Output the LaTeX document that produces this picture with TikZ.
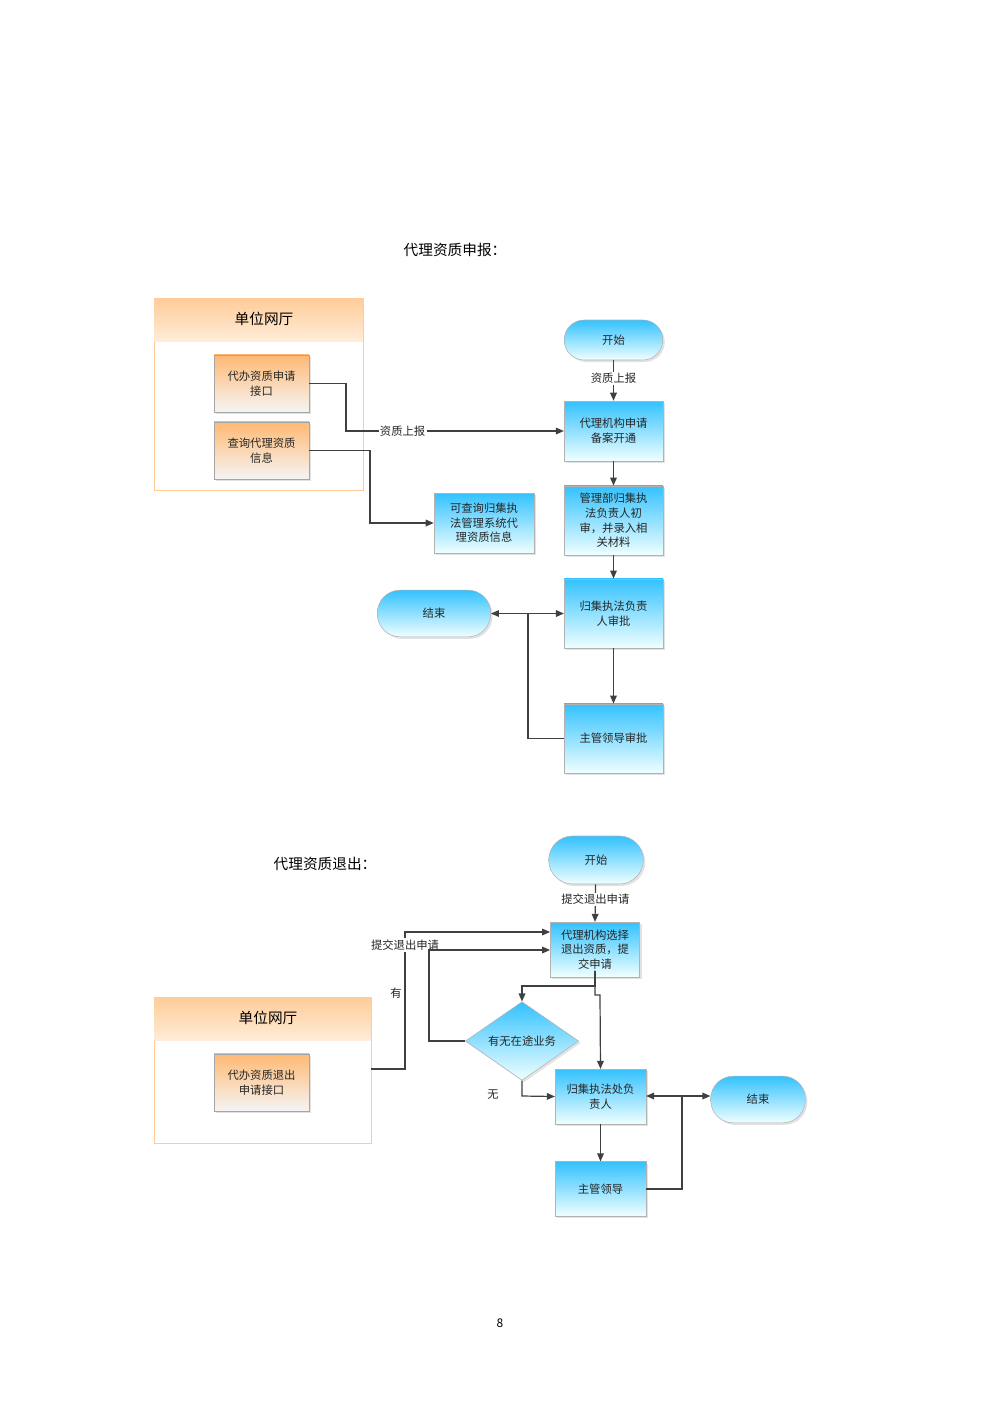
\documentclass[tikz,border=0pt]{standalone}
\usepackage{fontspec}
\setmainfont{Noto Sans CJK SC}
\usetikzlibrary{shapes.geometric,shadows,arrows.meta}
\begin{document}
\begin{tikzpicture}[x=0.75pt,y=-0.75pt,
  txt/.style={font=\fontsize{8.5pt}{11pt}\selectfont,text=black!85,align=center},
  blue/.style={txt,draw=gray!60,top color=cyan!70!blue!80,bottom color=cyan!6,
     drop shadow={shadow xshift=1.5pt,shadow yshift=-1.5pt,fill=gray!45},inner sep=1pt},
  proc/.style={blue,rectangle,minimum width=74pt},
  term/.style={blue,rectangle,rounded corners=15pt},
  org/.style={txt,rectangle,draw=gray!70,top color=orange!55!white,bottom color=gray!8,
     minimum width=71pt,minimum height=43pt,inner sep=1pt,
     drop shadow={shadow xshift=1.5pt,shadow yshift=-1.5pt,fill=gray!45}},
  ln/.style={draw=black!75,line width=0.9pt},
  arr/.style={ln,-{Triangle[length=6pt,width=5pt]}},
  lab/.style={txt,fill=white,inner sep=1pt}]
\useasboundingbox (0,0) rectangle (1000,1415);
% ===== Section 1 =====
\node[font=\fontsize{11pt}{13pt}\selectfont] (t1) at (455,250) {代理资质申报：};
\draw[draw=orange!40,fill=white,drop shadow={shadow xshift=1pt,shadow yshift=-1pt,fill=gray!30}] (154,298) rectangle (363,490);
\fill[top color=orange!40!white,bottom color=orange!15!white] (154.5,298.5) rectangle (362.5,341);
\node[font=\fontsize{11pt}{13pt}\selectfont] (h1) at (264,319) {单位网厅};
\node[org] (A) at (261.5,383.5) {代办资质申请\\接口};
\node[org] (B) at (261.5,450.5) {查询代理资质\\信息};
\node[term,minimum width=74pt,minimum height=30pt] (s1) at (613.5,340) {开始};
\node[proc,minimum height=45pt] (p1) at (613.5,431) {代理机构申请\\备案开通};
\node[proc,minimum height=52pt] (p2) at (613.5,520.5) {管理部归集执\\法负责人初\\审，并录入相\\关材料};
\node[proc,minimum width=75pt,minimum height=45pt] (q) at (484,523) {可查询归集执\\法管理系统代\\理资质信息};
\node[proc,minimum height=52pt] (p3) at (613.5,613.5) {归集执法负责\\人审批};
\node[term,minimum width=85pt,minimum height=35pt,rounded corners=17pt] (e1) at (434,613.5) {结束};
\node[proc,minimum height=52pt] (p4) at (613.5,738.5) {主管领导审批};
\draw[arr] (s1) -- node[lab,pos=0.45] {资质上报} (p1);
\draw[arr] (A.east) -- (346,383.5) |- node[lab,pos=0.63] {资质上报} (p1.west);
\draw[arr] (B.east) -- (370,450.5) |- (q.west);
\draw[arr] (p1) -- (p2);
\draw[arr] (p2) -- (p3);
\draw[arr] (p3) -- (p4);
\coordinate (j1) at (528,613.5);
\draw[ln] (p4.west) -- (528,738.5) -- (j1);
\draw[arr] (j1) -- (e1.east);
\draw[arr] (j1) -- (p3.west);
% ===== Section 2 =====
\node[font=\fontsize{11pt}{13pt}\selectfont] (t2) at (325,864) {代理资质退出：};
\node[term,minimum width=71pt,minimum height=36pt,rounded corners=18pt] (s2) at (596,860) {开始};
\node[proc,minimum width=67pt,minimum height=41pt] (r1) at (595,949.5) {代理机构选择\\退出资质，提\\交申请};
\draw[draw=orange!40,fill=white,drop shadow={shadow xshift=1pt,shadow yshift=-1pt,fill=gray!30}] (154,997) rectangle (371,1143);
\fill[top color=orange!40!white,bottom color=orange!15!white] (154.5,997.5) rectangle (370.5,1040);
\node[font=\fontsize{11pt}{13pt}\selectfont] (h2) at (268,1018) {单位网厅};
\node[org] (C) at (261.5,1082.5) {代办资质退出\\申请接口};
\node[blue,diamond,minimum width=85pt,minimum height=51pt,inner sep=0pt] (d) at (522,1041) {有无在途业务};
\node[proc,minimum width=68pt,minimum height=41pt] (r2) at (600.5,1096.5) {归集执法处负\\责人};
\node[proc,minimum width=68pt,minimum height=41pt] (r3) at (600.5,1189) {主管领导};
\node[term,minimum width=71pt,minimum height=35pt,rounded corners=17pt] (e2) at (758,1099.5) {结束};
\draw[arr] (s2) -- node[lab,pos=0.4] {提交退出申请} (r1.north);
\draw[arr] (371,1069) -- (405,1069) -- (405,932) -- (r1.west |- 0,932);
\node[lab] (l1) at (405,945) {提交退出申请};
\node[txt] (l2) at (396,993) {有};
\draw[arr] (d.west) -- (429,1041) -- (429,950) -- (r1.west |- 0,950);
\draw[arr] (595,970.5) -- (595,986) -- (522,986) -- (d.north);
\draw[arr] (595,970.5) -- (595,995) -- (600,995) -- (r2.north);
\draw[arr] (d.south) -- (522,1096) -- (r2.west);
\node[txt] (l3) at (493,1095) {无};
\draw[arr] (r2) -- (r3);
\coordinate (j2) at (682,1096);
\draw[ln] (r3.east) -- (682,1189) -- (j2);
\draw[arr] (j2) -- (r2.east |- j2);
\draw[arr] (j2) -- (e2.west |- j2);
\node[font=\fontsize{9pt}{11pt}\selectfont] (pg) at (500,1323) {8};
\end{tikzpicture}
\end{document}
